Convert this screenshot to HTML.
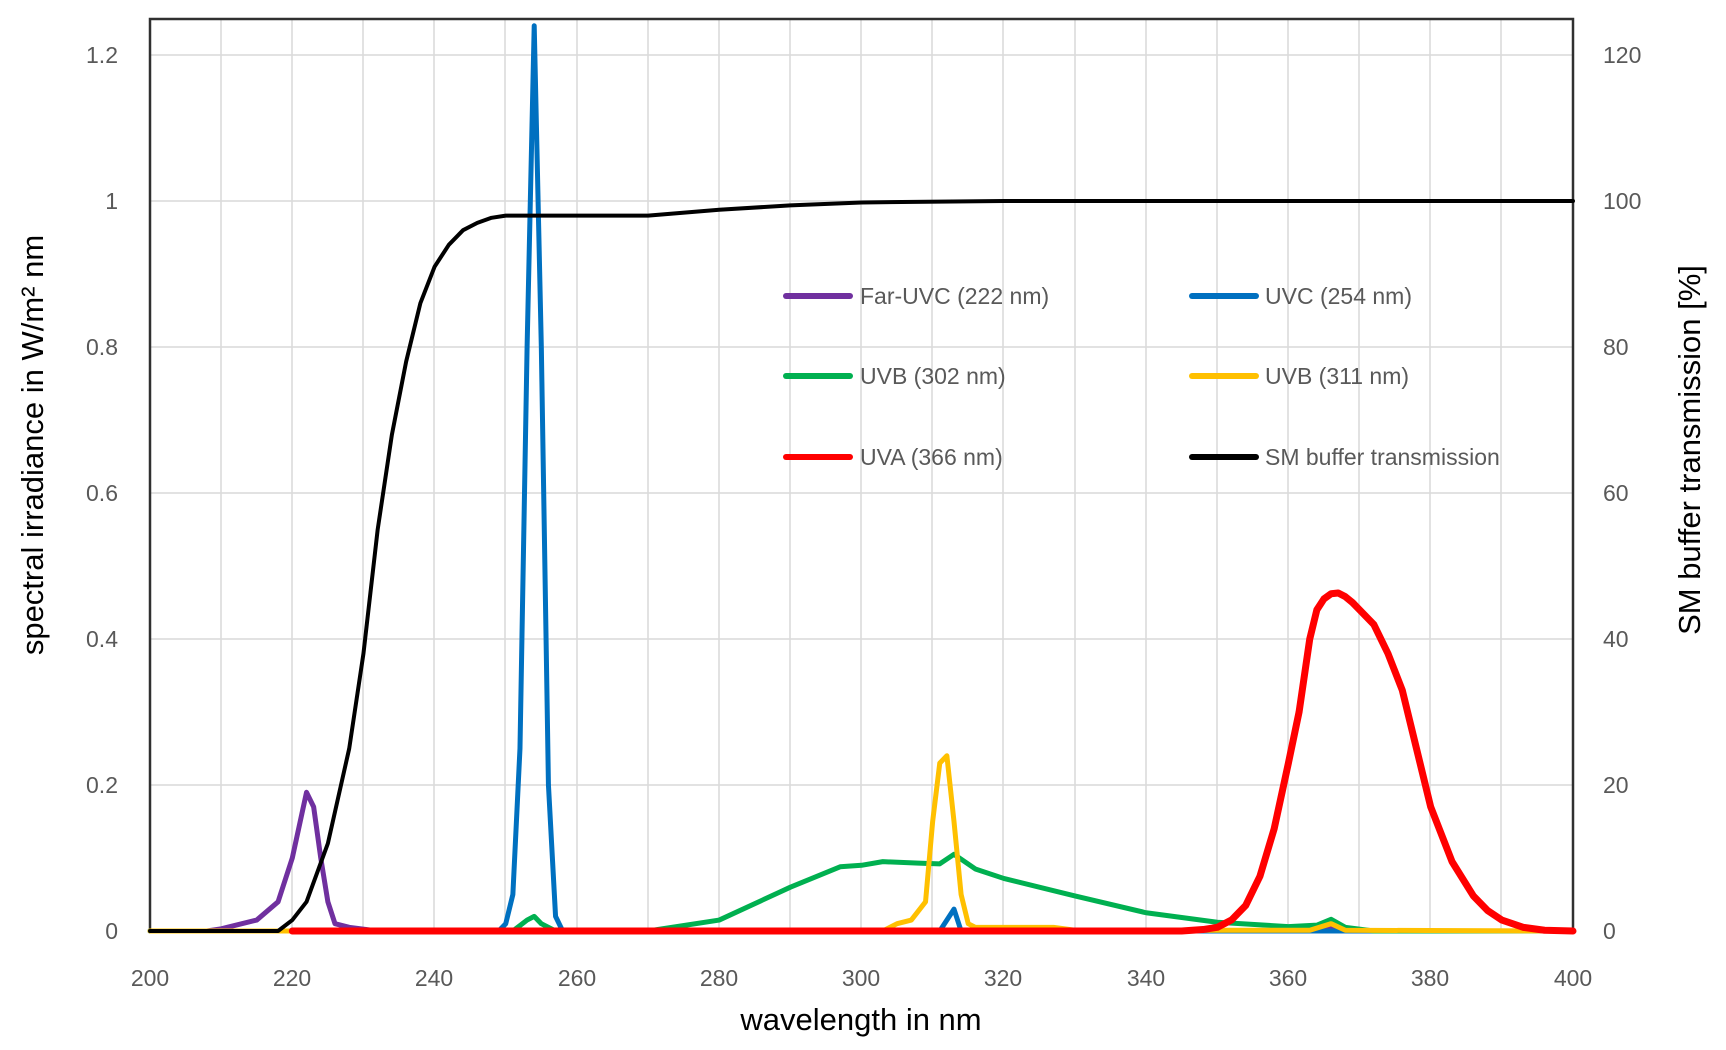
<!DOCTYPE html>
<html><head><meta charset="utf-8"><style>
body{margin:0;background:#fff;}
svg{display:block;font-family:"Liberation Sans",sans-serif;}
.t{fill:#595959;font-size:23px;}
.ttl{fill:#000;font-size:31px;}
.lg{fill:#595959;font-size:23px;}
</style></head><body>
<svg width="1726" height="1050" viewBox="0 0 1726 1050">
<rect width="1726" height="1050" fill="#fff"/>
<g stroke="#d9d9d9" stroke-width="1.5">
<line x1="221" y1="19" x2="221" y2="931"/><line x1="292" y1="19" x2="292" y2="931"/><line x1="363" y1="19" x2="363" y2="931"/><line x1="434" y1="19" x2="434" y2="931"/><line x1="505" y1="19" x2="505" y2="931"/><line x1="577" y1="19" x2="577" y2="931"/><line x1="648" y1="19" x2="648" y2="931"/><line x1="719" y1="19" x2="719" y2="931"/><line x1="790" y1="19" x2="790" y2="931"/><line x1="861" y1="19" x2="861" y2="931"/><line x1="932" y1="19" x2="932" y2="931"/><line x1="1003" y1="19" x2="1003" y2="931"/><line x1="1075" y1="19" x2="1075" y2="931"/><line x1="1146" y1="19" x2="1146" y2="931"/><line x1="1217" y1="19" x2="1217" y2="931"/><line x1="1288" y1="19" x2="1288" y2="931"/><line x1="1359" y1="19" x2="1359" y2="931"/><line x1="1430" y1="19" x2="1430" y2="931"/><line x1="1501" y1="19" x2="1501" y2="931"/>
<line x1="150" y1="785" x2="1573" y2="785"/><line x1="150" y1="639" x2="1573" y2="639"/><line x1="150" y1="493" x2="1573" y2="493"/><line x1="150" y1="347" x2="1573" y2="347"/><line x1="150" y1="201" x2="1573" y2="201"/><line x1="150" y1="55" x2="1573" y2="55"/>
</g>
<rect x="150" y="19" width="1423" height="912" fill="none" stroke="#303030" stroke-width="2.5"/>
<g fill="none" stroke-width="5" stroke-linejoin="round" stroke-linecap="round" transform="matrix(7.115 0 0 -730 -1273 931)">
<path vector-effect="non-scaling-stroke" stroke="#70309f" d="M200 0 L208 0 210 .003 215 .015 218 .04 220 .1 222 .19 223 .17 224 .1 225 .04 226 .01 228 .005 232 0 362 0 366 .004 369 0 400 0"/>
<path vector-effect="non-scaling-stroke" stroke="#0070c0" d="M200 0 L249 0 250 .01 251 .05 252 .25 253 .8 254 1.24 255 .8 256 .2 257 .02 258 0 311 0 313 .03 314 0 400 0"/>
<path vector-effect="non-scaling-stroke" stroke="#00b050" d="M200 0 L251 0 253 .015 254 .02 255 .01 257 0 270 0 280 .015 290 .06 297 .088 300 .09 303 .095 308 .093 311 .092 313 .105 316 .085 320 .072 330 .048 340 .025 350 .012 360 .006 364 .008 366 .016 368 .005 372 0 400 0"/>
<path vector-effect="non-scaling-stroke" stroke="#ffc000" d="M200 0 L303 0 305 .01 307 .015 309 .04 310 .15 311 .23 312 .24 313 .15 314 .05 315 .01 316 .005 327 .005 330 .001 363 .001 366 .01 368 .001 400 0"/>
<path vector-effect="non-scaling-stroke" stroke="#ff0000" stroke-width="7" d="M220 0 L345 0 348 .002 350 .005 352 .015 354 .035 356 .075 358 .14 360 .23 361.5 .3 363 .4 364 .44 365 .455 366 .462 367 .463 368 .458 369 .45 370 .44 372 .42 374 .38 376 .33 378 .25 380 .17 383 .095 386 .048 388 .028 390 .015 393 .005 396 .001 400 0"/>
<path vector-effect="non-scaling-stroke" stroke="#000" stroke-width="4" d="M200 0 L218 0 220 .015 222 .04 225 .12 228 .25 230 .38 232 .55 234 .68 236 .78 238 .86 240 .91 242 .94 244 .96 246 .97 248 .977 250 .98 270 .98 280 .988 290 .994 300 .998 320 1 400 1"/>
</g>
<g class="t" text-anchor="end">
<text x="118" y="939">0</text><text x="118" y="793">0.2</text><text x="118" y="647">0.4</text><text x="118" y="501">0.6</text><text x="118" y="355">0.8</text><text x="118" y="209">1</text><text x="118" y="63">1.2</text>
</g>
<g class="t" text-anchor="start">
<text x="1603" y="939">0</text><text x="1603" y="793">20</text><text x="1603" y="647">40</text><text x="1603" y="501">60</text><text x="1603" y="355">80</text><text x="1603" y="209">100</text><text x="1603" y="63">120</text>
</g>
<g class="t" text-anchor="middle">
<text x="150" y="986">200</text><text x="292" y="986">220</text><text x="434" y="986">240</text><text x="577" y="986">260</text><text x="719" y="986">280</text><text x="861" y="986">300</text><text x="1003" y="986">320</text><text x="1146" y="986">340</text><text x="1288" y="986">360</text><text x="1430" y="986">380</text><text x="1573" y="986">400</text>
</g>
<text class="ttl" x="861" y="1030" text-anchor="middle">wavelength in nm</text>
<text class="ttl" transform="translate(43,445) rotate(-90)" text-anchor="middle">spectral irradiance in W/m² nm</text>
<text class="ttl" transform="translate(1700,450) rotate(-90)" text-anchor="middle">SM buffer transmission [%]</text>
<g stroke-width="6" stroke-linecap="round">
<line x1="786" y1="296" x2="850" y2="296" stroke="#70309f"/>
<line x1="1192" y1="296" x2="1256" y2="296" stroke="#0070c0"/>
<line x1="786" y1="376" x2="850" y2="376" stroke="#00b050"/>
<line x1="1192" y1="376" x2="1256" y2="376" stroke="#ffc000"/>
<line x1="786" y1="457" x2="850" y2="457" stroke="#ff0000"/>
<line x1="1192" y1="457" x2="1256" y2="457" stroke="#000"/>
</g>
<g class="lg">
<text x="860" y="304">Far-UVC (222 nm)</text>
<text x="1265" y="304">UVC (254 nm)</text>
<text x="860" y="384">UVB (302 nm)</text>
<text x="1265" y="384">UVB (311 nm)</text>
<text x="860" y="465">UVA (366 nm)</text>
<text x="1265" y="465">SM buffer transmission</text>
</g>
</svg>
</body></html>
